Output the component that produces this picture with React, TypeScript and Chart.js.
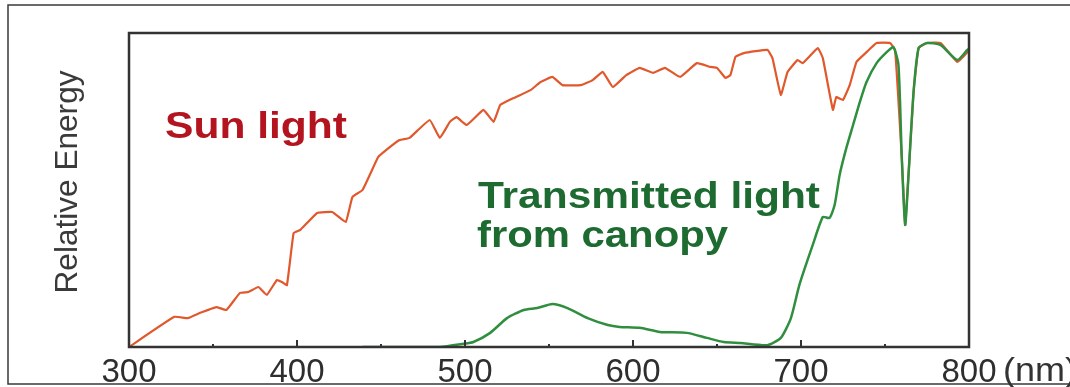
import React, { useEffect, useRef } from "react";
import { Chart, registerables } from "chart.js";

Chart.register(...registerables);

// Wavelength (nm) and relative energy (0-100)
const sunNm = [300, 327, 335, 342, 352, 358, 366, 371, 377, 382, 388, 391, 394, 398, 402, 412, 421, 429, 433, 439, 448, 451, 461, 467, 479, 485, 491, 495, 501, 511, 517, 521, 529, 539, 545, 552, 558, 569, 576, 582, 588, 596, 604, 612, 619, 628, 638, 646, 650, 655, 658, 661, 666, 680, 683, 688, 692, 698, 701, 710, 713, 719, 721, 725, 729, 733, 739, 745, 753, 756, 760, 762, 764, 767, 770, 775, 783, 793, 799, 800];
const sunValues = [0, 9.6, 9.2, 10.8, 12.7, 11.8, 17.2, 17.5, 19.1, 16.6, 21.3, 20.7, 19.7, 36.3, 37.3, 42.7, 43.0, 39.8, 47.8, 50.0, 60.2, 61.8, 65.9, 66.6, 72.3, 66.6, 71.7, 73.2, 70.7, 75.5, 71.7, 77.1, 79.3, 81.8, 84.4, 86.0, 83.4, 83.4, 85.0, 87.6, 82.8, 86.6, 88.9, 87.3, 88.9, 86.0, 90.4, 89.2, 88.9, 85.7, 86.6, 92.4, 93.6, 94.6, 92.0, 80.3, 87.6, 91.4, 90.4, 95.2, 92.0, 75.5, 79.6, 78.7, 83.4, 90.8, 93.9, 96.8, 96.8, 94.6, 60.2, 38.9, 54.8, 81.2, 95.2, 96.8, 96.8, 90.8, 93.9, 95];

const canopyNm = [439, 485, 499, 505, 515, 525, 535, 543, 552, 561, 573, 585, 592, 604, 616, 632, 644, 654, 664, 680, 688, 694, 699, 707, 713, 717, 720, 723, 727, 731, 735, 739, 745, 751, 755, 758, 760, 762, 764, 767, 770, 775, 783, 793, 799, 800];
const canopyValues = [0, 0, 1.0, 1.6, 4.5, 9.2, 11.8, 12.4, 13.7, 12.4, 9.2, 7.0, 6.4, 6.1, 4.8, 4.5, 2.9, 1.6, 1.3, 0.6, 2.9, 9.2, 19.7, 32.5, 41.4, 41.1, 45.2, 54.8, 63.4, 70.7, 78.0, 84.4, 90.4, 93.9, 95.5, 89.8, 60.2, 38.9, 54.8, 81.2, 95.2, 96.8, 96.2, 91.4, 94.6, 95];

const xMin = 300;
const xMax = 800;
const majorTicks = [400, 500, 600, 700];
const minorTicks = [350, 450, 550, 650, 750];

const yTitle = "Relative Energy";
const sunLabel = "Sun light";
const canopyLabel1 = "Transmitted light";
const canopyLabel2 = "from canopy";
const unitLabel = "(nm)";

const FONT = "'Liberation Sans', Arial, Helvetica, sans-serif";

function drawStretched(ctx: CanvasRenderingContext2D, text: string, x: number, y: number, font: string, color: string, targetW: number, align: "left" | "center" = "left") {
  ctx.save();
  ctx.font = font;
  ctx.fillStyle = color;
  ctx.textBaseline = "alphabetic";
  const w = ctx.measureText(text).width;
  ctx.translate(x, y);
  ctx.scale(targetW / w, 1);
  ctx.textAlign = align;
  ctx.fillText(text, 0, 0);
  ctx.restore();
}

const decorPlugin = {
  id: "decor",
  beforeDraw(chart: any) {
    const ctx = chart.ctx as CanvasRenderingContext2D;
    ctx.save();
    ctx.fillStyle = "#ffffff";
    ctx.fillRect(0, 0, chart.width, chart.height);
    ctx.strokeStyle = "#3a3a3a";
    ctx.lineWidth = 1.5;
    ctx.beginPath();
    ctx.moveTo(1070, 5);
    ctx.lineTo(8, 5);
    ctx.lineTo(8, 384);
    ctx.lineTo(1070, 384);
    ctx.stroke();
    ctx.restore();
  },
  afterDatasetsDraw(chart: any) {
    const ctx = chart.ctx as CanvasRenderingContext2D;
    const a = chart.chartArea;
    const xs = chart.scales.x;
    ctx.save();
    // frame
    ctx.strokeStyle = "#333333";
    ctx.lineWidth = 2.5;
    ctx.strokeRect(a.left, a.top, a.right - a.left, a.bottom - a.top);
    // inward ticks
    ctx.lineWidth = 2;
    ctx.beginPath();
    majorTicks.forEach((v) => {
      const px = xs.getPixelForValue(v);
      ctx.moveTo(px, a.bottom);
      ctx.lineTo(px, a.bottom - 7);
    });
    minorTicks.forEach((v) => {
      const px = xs.getPixelForValue(v);
      ctx.moveTo(px, a.bottom);
      ctx.lineTo(px, a.bottom - 3);
    });
    ctx.stroke();
    ctx.restore();

    // annotations
    drawStretched(ctx, sunLabel, 165, 138, `bold 37px ${FONT}`, "#b3141f", 182);
    drawStretched(ctx, canopyLabel1, 478, 208, `bold 36px ${FONT}`, "#1d6b30", 342);
    drawStretched(ctx, canopyLabel2, 477, 247, `bold 36px ${FONT}`, "#1d6b30", 251);

    // y title
    ctx.save();
    ctx.translate(77, 182);
    ctx.rotate(-Math.PI / 2);
    drawStretched(ctx, yTitle, 0, 0, `31px ${FONT}`, "#3a3a3a", 223, "center");
    ctx.restore();

    // unit label after 800
    drawStretched(ctx, unitLabel, 1003, 381, `33px ${FONT}`, "#333333", 74);
  },
};

export default function App() {
  const ref = useRef<HTMLCanvasElement | null>(null);
  useEffect(() => {
    if (!ref.current) return;
    const chart = new Chart(ref.current, {
      type: "line",
      data: {
        datasets: [
          {
            label: "Transmitted light from canopy",
            data: canopyNm.map((x, i) => ({ x, y: canopyValues[i] })),
            borderColor: "#2f8f3f",
            borderWidth: 2.5,
            pointRadius: 0,
            tension: 0.2,
            fill: false,
            order: 1,
          },
          {
            label: "Sun light",
            data: sunNm.map((x, i) => ({ x, y: sunValues[i] })),
            borderColor: "#e0582c",
            borderWidth: 2.2,
            pointRadius: 0,
            tension: 0.1,
            fill: false,
            order: 2,
          },
        ],
      },
      options: {
        animation: false,
        responsive: false,
        layout: { padding: { left: 129, right: 101, top: 33, bottom: 0 } },
        plugins: { legend: { display: false }, tooltip: { enabled: false } },
        scales: {
          x: {
            type: "linear",
            min: xMin,
            max: xMax,
            afterFit: (scale: any) => {
              scale.height = 40;
            },
            ticks: {
              stepSize: 100,
              font: { size: 33, family: FONT },
              color: "#2e2e2e",
              padding: 6,
              maxRotation: 0,
            },
            grid: { display: false, drawTicks: false },
            border: { display: false },
          },
          y: { min: 0, max: 100, display: false },
        },
      },
      plugins: [decorPlugin],
    });
    return () => chart.destroy();
  }, []);
  return (
    <div style={{ position: "absolute", left: 0, top: 0, width: 1070, height: 387 }}>
      <canvas ref={ref} width={1070} height={387} />
    </div>
  );
}
